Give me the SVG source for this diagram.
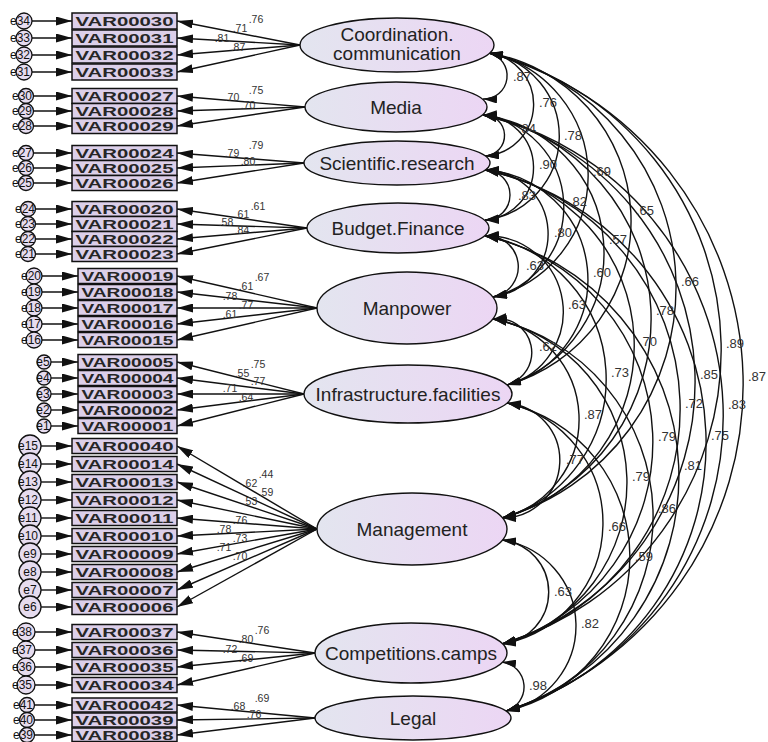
<svg xmlns="http://www.w3.org/2000/svg" width="768" height="742" viewBox="0 0 768 742">
<style>
.box{fill:#dccfe9;stroke:#111;stroke-width:1.5}
.vt{font-family:"Liberation Sans",Arial,sans-serif;font-size:12.5px;font-weight:bold;fill:#262626;text-anchor:middle}
.lat{fill:url(#lg);stroke:#111;stroke-width:1.4}
.lt{font-family:"Liberation Sans",Arial,sans-serif;font-size:19px;fill:#222;text-anchor:middle}
.err{fill:#e6dcef;stroke:#111;stroke-width:1.3}
.et{font-family:"Liberation Sans",Arial,sans-serif;font-size:12px;fill:#111;text-anchor:middle}
.ld{stroke:#111;stroke-width:1.4;fill:none;marker-end:url(#ah)}
.cv{fill:none;stroke:#111;stroke-width:1.4;marker-start:url(#ah2);marker-end:url(#ah2)}
.lb{font-family:"Liberation Sans",Arial,sans-serif;font-size:10.5px;fill:#333;text-anchor:middle}
.cl{font-family:"Liberation Sans",Arial,sans-serif;font-size:13px;fill:#333;text-anchor:middle}
</style>
<defs>
<linearGradient id="lg" x1="0" y1="0" x2="1" y2="0">
<stop offset="0" stop-color="#e3e5ef"/>
<stop offset="1" stop-color="#ecd6f4"/>
</linearGradient>
<marker id="ah" viewBox="0 0 16 9" refX="16" refY="4.5" markerWidth="16" markerHeight="9" markerUnits="userSpaceOnUse" orient="auto">
<path d="M0,0 L16,4.5 L0,9 z" fill="#111"/>
</marker>
<marker id="ah2" viewBox="0 0 14 8" refX="14" refY="4" markerWidth="14" markerHeight="8" markerUnits="userSpaceOnUse" orient="auto-start-reverse">
<path d="M0,0 L14,4 L0,8 z" fill="#111"/>
</marker>
</defs>
<rect width="768" height="742" fill="#fff"/>

<g id="connectors">
<line class="ld" x1="32" y1="21" x2="72" y2="21"/>
<line class="ld" x1="32" y1="38" x2="72" y2="38"/>
<line class="ld" x1="32" y1="55" x2="72" y2="55"/>
<line class="ld" x1="32" y1="72" x2="72" y2="72"/>
<line class="ld" x1="34" y1="96" x2="72" y2="96"/>
<line class="ld" x1="34" y1="111" x2="72" y2="111"/>
<line class="ld" x1="34" y1="126" x2="72" y2="126"/>
<line class="ld" x1="34" y1="153" x2="72" y2="153"/>
<line class="ld" x1="34" y1="168" x2="72" y2="168"/>
<line class="ld" x1="34" y1="183" x2="72" y2="183"/>
<line class="ld" x1="36" y1="209" x2="72" y2="209"/>
<line class="ld" x1="36" y1="224" x2="72" y2="224"/>
<line class="ld" x1="36" y1="239" x2="72" y2="239"/>
<line class="ld" x1="36" y1="254" x2="72" y2="254"/>
<line class="ld" x1="42" y1="276" x2="78" y2="276"/>
<line class="ld" x1="42" y1="292" x2="78" y2="292"/>
<line class="ld" x1="42" y1="308" x2="78" y2="308"/>
<line class="ld" x1="42" y1="324" x2="78" y2="324"/>
<line class="ld" x1="42" y1="340" x2="78" y2="340"/>
<line class="ld" x1="51" y1="362" x2="78" y2="362"/>
<line class="ld" x1="51" y1="378" x2="78" y2="378"/>
<line class="ld" x1="51" y1="394" x2="78" y2="394"/>
<line class="ld" x1="51" y1="410" x2="78" y2="410"/>
<line class="ld" x1="51" y1="426" x2="78" y2="426"/>
<line class="ld" x1="41" y1="446" x2="72" y2="446"/>
<line class="ld" x1="41" y1="464" x2="72" y2="464"/>
<line class="ld" x1="41" y1="482" x2="72" y2="482"/>
<line class="ld" x1="41" y1="500" x2="72" y2="500"/>
<line class="ld" x1="41" y1="518" x2="72" y2="518"/>
<line class="ld" x1="41" y1="536" x2="72" y2="536"/>
<line class="ld" x1="41" y1="554" x2="72" y2="554"/>
<line class="ld" x1="41" y1="572" x2="72" y2="572"/>
<line class="ld" x1="41" y1="590" x2="72" y2="590"/>
<line class="ld" x1="41" y1="607" x2="72" y2="607"/>
<line class="ld" x1="35" y1="632" x2="72" y2="632"/>
<line class="ld" x1="35" y1="650" x2="72" y2="650"/>
<line class="ld" x1="35" y1="667" x2="72" y2="667"/>
<line class="ld" x1="35" y1="685" x2="72" y2="685"/>
<line class="ld" x1="35" y1="705" x2="72" y2="705"/>
<line class="ld" x1="35" y1="720" x2="72" y2="720"/>
<line class="ld" x1="35" y1="735" x2="72" y2="735"/>
<line class="ld" x1="300" y1="45" x2="177" y2="21"/>
<line class="ld" x1="300" y1="45" x2="177" y2="38"/>
<line class="ld" x1="300" y1="45" x2="177" y2="55"/>
<line class="ld" x1="300" y1="45" x2="177" y2="72"/>
<line class="ld" x1="305" y1="107" x2="177" y2="96"/>
<line class="ld" x1="305" y1="107" x2="177" y2="111"/>
<line class="ld" x1="305" y1="107" x2="177" y2="126"/>
<line class="ld" x1="304" y1="163" x2="177" y2="153"/>
<line class="ld" x1="304" y1="163" x2="177" y2="168"/>
<line class="ld" x1="304" y1="163" x2="177" y2="183"/>
<line class="ld" x1="307" y1="228" x2="177" y2="209"/>
<line class="ld" x1="307" y1="228" x2="177" y2="224"/>
<line class="ld" x1="307" y1="228" x2="177" y2="239"/>
<line class="ld" x1="307" y1="228" x2="177" y2="254"/>
<line class="ld" x1="317" y1="308" x2="177" y2="276"/>
<line class="ld" x1="317" y1="308" x2="177" y2="292"/>
<line class="ld" x1="317" y1="308" x2="177" y2="308"/>
<line class="ld" x1="317" y1="308" x2="177" y2="324"/>
<line class="ld" x1="317" y1="308" x2="177" y2="340"/>
<line class="ld" x1="304" y1="394" x2="177" y2="362"/>
<line class="ld" x1="304" y1="394" x2="177" y2="378"/>
<line class="ld" x1="304" y1="394" x2="177" y2="394"/>
<line class="ld" x1="304" y1="394" x2="177" y2="410"/>
<line class="ld" x1="304" y1="394" x2="177" y2="426"/>
<line class="ld" x1="317" y1="529" x2="177" y2="446"/>
<line class="ld" x1="317" y1="529" x2="177" y2="464"/>
<line class="ld" x1="317" y1="529" x2="177" y2="482"/>
<line class="ld" x1="317" y1="529" x2="177" y2="500"/>
<line class="ld" x1="317" y1="529" x2="177" y2="518"/>
<line class="ld" x1="317" y1="529" x2="177" y2="536"/>
<line class="ld" x1="317" y1="529" x2="177" y2="554"/>
<line class="ld" x1="317" y1="529" x2="177" y2="572"/>
<line class="ld" x1="317" y1="529" x2="177" y2="590"/>
<line class="ld" x1="317" y1="529" x2="177" y2="607"/>
<line class="ld" x1="315" y1="653" x2="177" y2="632"/>
<line class="ld" x1="315" y1="653" x2="177" y2="650"/>
<line class="ld" x1="315" y1="653" x2="177" y2="667"/>
<line class="ld" x1="315" y1="653" x2="177" y2="685"/>
<line class="ld" x1="315" y1="718" x2="177" y2="705"/>
<line class="ld" x1="315" y1="718" x2="177" y2="720"/>
<line class="ld" x1="315" y1="718" x2="177" y2="735"/>
<path class="cv" d="M489,53 A23.3,23.3 0 0 1 483,99"/>
<path class="cv" d="M489,53 A51.8,51.8 0 0 1 485,156"/>
<path class="cv" d="M489,53 A84.4,84.4 0 0 1 485,220"/>
<path class="cv" d="M489,53 A125.2,125.2 0 0 1 493,297"/>
<path class="cv" d="M489,53 A170.4,170.4 0 0 1 507,385"/>
<path class="cv" d="M489,53 A240.1,240.1 0 0 1 502,518"/>
<path class="cv" d="M489,53 A306.4,306.4 0 0 1 502,644"/>
<path class="cv" d="M489,53 A343.3,343.3 0 0 1 506,711"/>
<path class="cv" d="M483,115 A20.5,20.5 0 0 1 485,156"/>
<path class="cv" d="M483,115 A52.6,52.6 0 0 1 485,220"/>
<path class="cv" d="M483,115 A92.7,92.7 0 0 1 493,297"/>
<path class="cv" d="M483,115 A138.8,138.8 0 0 1 507,385"/>
<path class="cv" d="M483,115 A207.6,207.6 0 0 1 502,518"/>
<path class="cv" d="M483,115 A274.2,274.2 0 0 1 502,644"/>
<path class="cv" d="M483,115 A308.8,308.8 0 0 1 506,711"/>
<path class="cv" d="M485,170 A25,25 0 0 1 485,220"/>
<path class="cv" d="M485,170 A63.8,63.8 0 0 1 493,297"/>
<path class="cv" d="M485,170 A109.5,109.5 0 0 1 507,385"/>
<path class="cv" d="M485,170 A178.2,178.2 0 0 1 502,518"/>
<path class="cv" d="M485,170 A244,244 0 0 1 502,644"/>
<path class="cv" d="M485,170 A279.3,279.3 0 0 1 506,711"/>
<path class="cv" d="M485,236 A30.8,30.8 0 0 1 493,297"/>
<path class="cv" d="M485,236 A75.8,75.8 0 0 1 507,385"/>
<path class="cv" d="M485,236 A144.9,144.9 0 0 1 502,518"/>
<path class="cv" d="M485,236 A210.5,210.5 0 0 1 502,644"/>
<path class="cv" d="M485,236 A245.8,245.8 0 0 1 506,711"/>
<path class="cv" d="M493,319 A33.8,33.8 0 0 1 507,385"/>
<path class="cv" d="M493,319 A101.6,101.6 0 0 1 502,518"/>
<path class="cv" d="M493,319 A166.8,166.8 0 0 1 502,644"/>
<path class="cv" d="M493,319 A202,202 0 0 1 506,711"/>
<path class="cv" d="M507,403 A57.6,57.6 0 0 1 502,518"/>
<path class="cv" d="M507,403 A123,123 0 0 1 502,644"/>
<path class="cv" d="M507,403 A157.8,157.8 0 0 1 506,711"/>
<path class="cv" d="M502,540 A52.3,52.3 0 0 1 502,644"/>
<path class="cv" d="M502,540 A86.8,86.8 0 0 1 506,711"/>
<path class="cv" d="M502,662 A25.1,25.1 0 0 1 506,711"/>
<text class="lb" x="256" y="23">.76</text>
<text class="lb" x="240" y="32">.71</text>
<text class="lb" x="222" y="42">.81</text>
<text class="lb" x="238" y="51">.87</text>
<text class="lb" x="256" y="94">.75</text>
<text class="lb" x="232" y="101">.70</text>
<text class="lb" x="248" y="109">.70</text>
<text class="lb" x="256" y="149">.79</text>
<text class="lb" x="232" y="157">.79</text>
<text class="lb" x="248" y="165">.80</text>
<text class="lb" x="258" y="210">.61</text>
<text class="lb" x="242" y="218">.61</text>
<text class="lb" x="226" y="226">.58</text>
<text class="lb" x="242" y="234">.84</text>
<text class="lb" x="262" y="281">.67</text>
<text class="lb" x="246" y="290">.61</text>
<text class="lb" x="230" y="300">.78</text>
<text class="lb" x="246" y="309">.77</text>
<text class="lb" x="230" y="318">.61</text>
<text class="lb" x="258" y="368">.75</text>
<text class="lb" x="242" y="377">.55</text>
<text class="lb" x="258" y="385">.77</text>
<text class="lb" x="230" y="392">.71</text>
<text class="lb" x="246" y="401">.64</text>
<text class="lb" x="266" y="478">.44</text>
<text class="lb" x="250" y="487">.62</text>
<text class="lb" x="266" y="496">.59</text>
<text class="lb" x="250" y="505">.53</text>
<text class="lb" x="240" y="524">.76</text>
<text class="lb" x="224" y="533">.78</text>
<text class="lb" x="240" y="542">.73</text>
<text class="lb" x="224" y="551">.71</text>
<text class="lb" x="240" y="560">.70</text>
<text class="lb" x="262" y="634">.76</text>
<text class="lb" x="246" y="643">.80</text>
<text class="lb" x="230" y="653">.72</text>
<text class="lb" x="246" y="662">.69</text>
<text class="lb" x="262" y="702">.69</text>
<text class="lb" x="238" y="710">.68</text>
<text class="lb" x="254" y="718">.76</text>
<text class="cl" x="522" y="81">.87</text>
<text class="cl" x="548" y="107">.76</text>
<text class="cl" x="573" y="140">.78</text>
<text class="cl" x="602" y="176">.69</text>
<text class="cl" x="645" y="215">.65</text>
<text class="cl" x="690" y="286">.66</text>
<text class="cl" x="735" y="348">.89</text>
<text class="cl" x="757" y="381">.87</text>
<text class="cl" x="527" y="133">.84</text>
<text class="cl" x="548" y="169">.90</text>
<text class="cl" x="578" y="206">.82</text>
<text class="cl" x="618" y="244">.57</text>
<text class="cl" x="665" y="315">.78</text>
<text class="cl" x="709" y="379">.85</text>
<text class="cl" x="737" y="409">.83</text>
<text class="cl" x="527" y="200">.83</text>
<text class="cl" x="563" y="237">.80</text>
<text class="cl" x="602" y="277">.60</text>
<text class="cl" x="648" y="346">.70</text>
<text class="cl" x="694" y="408">.72</text>
<text class="cl" x="720" y="440">.75</text>
<text class="cl" x="535" y="270">.63</text>
<text class="cl" x="577" y="309">.63</text>
<text class="cl" x="620" y="377">.73</text>
<text class="cl" x="667" y="441">.79</text>
<text class="cl" x="693" y="470">.81</text>
<text class="cl" x="548" y="351">.62</text>
<text class="cl" x="593" y="419">.87</text>
<text class="cl" x="641" y="481">.79</text>
<text class="cl" x="667" y="513">.86</text>
<text class="cl" x="575" y="464">.77</text>
<text class="cl" x="617" y="531">.66</text>
<text class="cl" x="644" y="561">.59</text>
<text class="cl" x="563" y="596">.63</text>
<text class="cl" x="590" y="628">.82</text>
<text class="cl" x="538" y="690">.98</text>
</g>

<g id="Coordination.communication"><ellipse class="lat" cx="397" cy="45" rx="97" ry="27"/><text class="lt" x="397" y="41">Coordination.</text><text class="lt" x="397" y="60">communication</text></g>
<g id="Media"><ellipse class="lat" cx="396" cy="107" rx="91" ry="25"/><text class="lt" x="396" y="114">Media</text></g>
<g id="Scientific.research"><ellipse class="lat" cx="397" cy="163" rx="93" ry="22"/><text class="lt" x="397" y="170">Scientific.research</text></g>
<g id="Budget.Finance"><ellipse class="lat" cx="398" cy="228" rx="91" ry="25"/><text class="lt" x="398" y="235">Budget.Finance</text></g>
<g id="Manpower"><ellipse class="lat" cx="407" cy="308" rx="90" ry="36"/><text class="lt" x="407" y="315">Manpower</text></g>
<g id="Infrastructure.facilities"><ellipse class="lat" cx="408" cy="394" rx="104" ry="29"/><text class="lt" x="408" y="401">Infrastructure.facilities</text></g>
<g id="Management"><ellipse class="lat" cx="412" cy="529" rx="95" ry="36"/><text class="lt" x="412" y="536">Management</text></g>
<g id="Competitions.camps"><ellipse class="lat" cx="411" cy="653" rx="96" ry="30"/><text class="lt" x="411" y="660">Competitions.camps</text></g>
<g id="Legal"><ellipse class="lat" cx="413" cy="718" rx="98" ry="22"/><text class="lt" x="413" y="725">Legal</text></g>

<g id="VAR00030"><rect class="box" x="72" y="13" width="105" height="16"/><text class="vt" x="124.5" y="25.5" textLength="98" lengthAdjust="spacingAndGlyphs">VAR00030</text></g>
<g id="VAR00031"><rect class="box" x="72" y="30" width="105" height="16"/><text class="vt" x="124.5" y="42.5" textLength="98" lengthAdjust="spacingAndGlyphs">VAR00031</text></g>
<g id="VAR00032"><rect class="box" x="72" y="47" width="105" height="16"/><text class="vt" x="124.5" y="59.5" textLength="98" lengthAdjust="spacingAndGlyphs">VAR00032</text></g>
<g id="VAR00033"><rect class="box" x="72" y="64" width="105" height="16"/><text class="vt" x="124.5" y="76.5" textLength="98" lengthAdjust="spacingAndGlyphs">VAR00033</text></g>
<g id="VAR00027"><rect class="box" x="72" y="88.5" width="105" height="15"/><text class="vt" x="124.5" y="100.5" textLength="98" lengthAdjust="spacingAndGlyphs">VAR00027</text></g>
<g id="VAR00028"><rect class="box" x="72" y="103.5" width="105" height="15"/><text class="vt" x="124.5" y="115.5" textLength="98" lengthAdjust="spacingAndGlyphs">VAR00028</text></g>
<g id="VAR00029"><rect class="box" x="72" y="118.5" width="105" height="15"/><text class="vt" x="124.5" y="130.5" textLength="98" lengthAdjust="spacingAndGlyphs">VAR00029</text></g>
<g id="VAR00024"><rect class="box" x="72" y="145.5" width="105" height="15"/><text class="vt" x="124.5" y="157.5" textLength="98" lengthAdjust="spacingAndGlyphs">VAR00024</text></g>
<g id="VAR00025"><rect class="box" x="72" y="160.5" width="105" height="15"/><text class="vt" x="124.5" y="172.5" textLength="98" lengthAdjust="spacingAndGlyphs">VAR00025</text></g>
<g id="VAR00026"><rect class="box" x="72" y="175.5" width="105" height="15"/><text class="vt" x="124.5" y="187.5" textLength="98" lengthAdjust="spacingAndGlyphs">VAR00026</text></g>
<g id="VAR00020"><rect class="box" x="72" y="201.5" width="105" height="15"/><text class="vt" x="124.5" y="213.5" textLength="98" lengthAdjust="spacingAndGlyphs">VAR00020</text></g>
<g id="VAR00021"><rect class="box" x="72" y="216.5" width="105" height="15"/><text class="vt" x="124.5" y="228.5" textLength="98" lengthAdjust="spacingAndGlyphs">VAR00021</text></g>
<g id="VAR00022"><rect class="box" x="72" y="231.5" width="105" height="15"/><text class="vt" x="124.5" y="243.5" textLength="98" lengthAdjust="spacingAndGlyphs">VAR00022</text></g>
<g id="VAR00023"><rect class="box" x="72" y="246.5" width="105" height="15"/><text class="vt" x="124.5" y="258.5" textLength="98" lengthAdjust="spacingAndGlyphs">VAR00023</text></g>
<g id="VAR00019"><rect class="box" x="78" y="268.5" width="99" height="15"/><text class="vt" x="127.5" y="280.5" textLength="92" lengthAdjust="spacingAndGlyphs">VAR00019</text></g>
<g id="VAR00018"><rect class="box" x="78" y="284.5" width="99" height="15"/><text class="vt" x="127.5" y="296.5" textLength="92" lengthAdjust="spacingAndGlyphs">VAR00018</text></g>
<g id="VAR00017"><rect class="box" x="78" y="300.5" width="99" height="15"/><text class="vt" x="127.5" y="312.5" textLength="92" lengthAdjust="spacingAndGlyphs">VAR00017</text></g>
<g id="VAR00016"><rect class="box" x="78" y="316.5" width="99" height="15"/><text class="vt" x="127.5" y="328.5" textLength="92" lengthAdjust="spacingAndGlyphs">VAR00016</text></g>
<g id="VAR00015"><rect class="box" x="78" y="332.5" width="99" height="15"/><text class="vt" x="127.5" y="344.5" textLength="92" lengthAdjust="spacingAndGlyphs">VAR00015</text></g>
<g id="VAR00005"><rect class="box" x="78" y="354.5" width="99" height="15"/><text class="vt" x="127.5" y="366.5" textLength="92" lengthAdjust="spacingAndGlyphs">VAR00005</text></g>
<g id="VAR00004"><rect class="box" x="78" y="370.5" width="99" height="15"/><text class="vt" x="127.5" y="382.5" textLength="92" lengthAdjust="spacingAndGlyphs">VAR00004</text></g>
<g id="VAR00003"><rect class="box" x="78" y="386.5" width="99" height="15"/><text class="vt" x="127.5" y="398.5" textLength="92" lengthAdjust="spacingAndGlyphs">VAR00003</text></g>
<g id="VAR00002"><rect class="box" x="78" y="402.5" width="99" height="15"/><text class="vt" x="127.5" y="414.5" textLength="92" lengthAdjust="spacingAndGlyphs">VAR00002</text></g>
<g id="VAR00001"><rect class="box" x="78" y="418.5" width="99" height="15"/><text class="vt" x="127.5" y="430.5" textLength="92" lengthAdjust="spacingAndGlyphs">VAR00001</text></g>
<g id="VAR00040"><rect class="box" x="72" y="438.5" width="105" height="15"/><text class="vt" x="124.5" y="450.5" textLength="98" lengthAdjust="spacingAndGlyphs">VAR00040</text></g>
<g id="VAR00014"><rect class="box" x="72" y="456.5" width="105" height="15"/><text class="vt" x="124.5" y="468.5" textLength="98" lengthAdjust="spacingAndGlyphs">VAR00014</text></g>
<g id="VAR00013"><rect class="box" x="72" y="474.5" width="105" height="15"/><text class="vt" x="124.5" y="486.5" textLength="98" lengthAdjust="spacingAndGlyphs">VAR00013</text></g>
<g id="VAR00012"><rect class="box" x="72" y="492.5" width="105" height="15"/><text class="vt" x="124.5" y="504.5" textLength="98" lengthAdjust="spacingAndGlyphs">VAR00012</text></g>
<g id="VAR00011"><rect class="box" x="72" y="510.5" width="105" height="15"/><text class="vt" x="124.5" y="522.5" textLength="98" lengthAdjust="spacingAndGlyphs">VAR00011</text></g>
<g id="VAR00010"><rect class="box" x="72" y="528.5" width="105" height="15"/><text class="vt" x="124.5" y="540.5" textLength="98" lengthAdjust="spacingAndGlyphs">VAR00010</text></g>
<g id="VAR00009"><rect class="box" x="72" y="546.5" width="105" height="15"/><text class="vt" x="124.5" y="558.5" textLength="98" lengthAdjust="spacingAndGlyphs">VAR00009</text></g>
<g id="VAR00008"><rect class="box" x="72" y="564.5" width="105" height="15"/><text class="vt" x="124.5" y="576.5" textLength="98" lengthAdjust="spacingAndGlyphs">VAR00008</text></g>
<g id="VAR00007"><rect class="box" x="72" y="582.5" width="105" height="15"/><text class="vt" x="124.5" y="594.5" textLength="98" lengthAdjust="spacingAndGlyphs">VAR00007</text></g>
<g id="VAR00006"><rect class="box" x="72" y="599.5" width="105" height="15"/><text class="vt" x="124.5" y="611.5" textLength="98" lengthAdjust="spacingAndGlyphs">VAR00006</text></g>
<g id="VAR00037"><rect class="box" x="72" y="624.5" width="105" height="15"/><text class="vt" x="124.5" y="636.5" textLength="98" lengthAdjust="spacingAndGlyphs">VAR00037</text></g>
<g id="VAR00036"><rect class="box" x="72" y="642.5" width="105" height="15"/><text class="vt" x="124.5" y="654.5" textLength="98" lengthAdjust="spacingAndGlyphs">VAR00036</text></g>
<g id="VAR00035"><rect class="box" x="72" y="659.5" width="105" height="15"/><text class="vt" x="124.5" y="671.5" textLength="98" lengthAdjust="spacingAndGlyphs">VAR00035</text></g>
<g id="VAR00034"><rect class="box" x="72" y="677.5" width="105" height="15"/><text class="vt" x="124.5" y="689.5" textLength="98" lengthAdjust="spacingAndGlyphs">VAR00034</text></g>
<g id="VAR00042"><rect class="box" x="72" y="698" width="105" height="14"/><text class="vt" x="124.5" y="709.5" textLength="98" lengthAdjust="spacingAndGlyphs">VAR00042</text></g>
<g id="VAR00039"><rect class="box" x="72" y="713" width="105" height="14"/><text class="vt" x="124.5" y="724.5" textLength="98" lengthAdjust="spacingAndGlyphs">VAR00039</text></g>
<g id="VAR00038"><rect class="box" x="72" y="728" width="105" height="13.5"/><text class="vt" x="124.5" y="739.5" textLength="98" lengthAdjust="spacingAndGlyphs">VAR00038</text></g>

<g id="e34"><circle class="err" cx="24" cy="21" r="8"/><text class="et" x="20" y="25">e34</text></g>
<g id="e33"><circle class="err" cx="24" cy="38" r="8"/><text class="et" x="20" y="42">e33</text></g>
<g id="e32"><circle class="err" cx="24" cy="55" r="8"/><text class="et" x="20" y="59">e32</text></g>
<g id="e31"><circle class="err" cx="24" cy="72" r="8"/><text class="et" x="20" y="76">e31</text></g>
<g id="e30"><circle class="err" cx="26" cy="96" r="7.5"/><text class="et" x="22" y="100">e30</text></g>
<g id="e29"><circle class="err" cx="26" cy="111" r="7.5"/><text class="et" x="22" y="115">e29</text></g>
<g id="e28"><circle class="err" cx="26" cy="126" r="7.5"/><text class="et" x="22" y="130">e28</text></g>
<g id="e27"><circle class="err" cx="26" cy="153" r="7.5"/><text class="et" x="22" y="157">e27</text></g>
<g id="e26"><circle class="err" cx="26" cy="168" r="7.5"/><text class="et" x="22" y="172">e26</text></g>
<g id="e25"><circle class="err" cx="26" cy="183" r="7.5"/><text class="et" x="22" y="187">e25</text></g>
<g id="e24"><circle class="err" cx="28" cy="209" r="7.5"/><text class="et" x="25" y="213">e24</text></g>
<g id="e23"><circle class="err" cx="28" cy="224" r="7.5"/><text class="et" x="25" y="228">e23</text></g>
<g id="e22"><circle class="err" cx="28" cy="239" r="7.5"/><text class="et" x="25" y="243">e22</text></g>
<g id="e21"><circle class="err" cx="28" cy="254" r="7.5"/><text class="et" x="25" y="258">e21</text></g>
<g id="e20"><circle class="err" cx="34" cy="276" r="8"/><text class="et" x="31" y="280">e20</text></g>
<g id="e19"><circle class="err" cx="34" cy="292" r="8"/><text class="et" x="31" y="296">e19</text></g>
<g id="e18"><circle class="err" cx="34" cy="308" r="8"/><text class="et" x="31" y="312">e18</text></g>
<g id="e17"><circle class="err" cx="34" cy="324" r="8"/><text class="et" x="31" y="328">e17</text></g>
<g id="e16"><circle class="err" cx="34" cy="340" r="8"/><text class="et" x="31" y="344">e16</text></g>
<g id="e5"><circle class="err" cx="44" cy="362" r="7"/><text class="et" x="43" y="366">e5</text></g>
<g id="e4"><circle class="err" cx="44" cy="378" r="7"/><text class="et" x="43" y="382">e4</text></g>
<g id="e3"><circle class="err" cx="44" cy="394" r="7"/><text class="et" x="43" y="398">e3</text></g>
<g id="e2"><circle class="err" cx="44" cy="410" r="7"/><text class="et" x="43" y="414">e2</text></g>
<g id="e1"><circle class="err" cx="44" cy="426" r="7"/><text class="et" x="43" y="430">e1</text></g>
<g id="e15"><circle class="err" cx="30" cy="446" r="11"/><text class="et" x="28" y="450">e15</text></g>
<g id="e14"><circle class="err" cx="30" cy="464" r="11"/><text class="et" x="28" y="468">e14</text></g>
<g id="e13"><circle class="err" cx="30" cy="482" r="11"/><text class="et" x="28" y="486">e13</text></g>
<g id="e12"><circle class="err" cx="30" cy="500" r="11"/><text class="et" x="28" y="504">e12</text></g>
<g id="e11"><circle class="err" cx="30" cy="518" r="11"/><text class="et" x="28" y="522">e11</text></g>
<g id="e10"><circle class="err" cx="30" cy="536" r="11"/><text class="et" x="28" y="540">e10</text></g>
<g id="e9"><circle class="err" cx="30" cy="554" r="11"/><text class="et" x="30" y="558">e9</text></g>
<g id="e8"><circle class="err" cx="30" cy="572" r="11"/><text class="et" x="30" y="576">e8</text></g>
<g id="e7"><circle class="err" cx="30" cy="590" r="11"/><text class="et" x="30" y="594">e7</text></g>
<g id="e6"><circle class="err" cx="30" cy="607" r="11"/><text class="et" x="30" y="611">e6</text></g>
<g id="e38"><circle class="err" cx="26" cy="632" r="9"/><text class="et" x="22" y="636">e38</text></g>
<g id="e37"><circle class="err" cx="26" cy="650" r="9"/><text class="et" x="22" y="654">e37</text></g>
<g id="e36"><circle class="err" cx="26" cy="667" r="9"/><text class="et" x="22" y="671">e36</text></g>
<g id="e35"><circle class="err" cx="26" cy="685" r="9"/><text class="et" x="22" y="689">e35</text></g>
<g id="e41"><circle class="err" cx="27" cy="705" r="7.5"/><text class="et" x="23" y="709">e41</text></g>
<g id="e40"><circle class="err" cx="27" cy="720" r="7.5"/><text class="et" x="23" y="724">e40</text></g>
<g id="e39"><circle class="err" cx="27" cy="735" r="7.5"/><text class="et" x="23" y="739">e39</text></g>
</svg>
